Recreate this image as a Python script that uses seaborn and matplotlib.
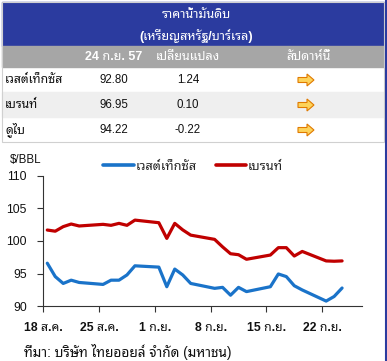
import matplotlib
matplotlib.use("Agg")
import matplotlib.pyplot as plt
from matplotlib.patches import Rectangle, FancyArrow
import seaborn as sns
import pandas as pd

# table data
row_names = ["เวสต์เท็กซัส", "เบรนท์", "ดูไบ"]
last_price = ["92.80", "96.95", "94.22"]
change = ["1.24", "0.10", "-0.22"]

# daily prices, 18 Aug - 24 Sep 2014
dates = ["2014-08-18", "2014-08-19", "2014-08-20", "2014-08-21", "2014-08-22",
         "2014-08-25", "2014-08-26", "2014-08-27", "2014-08-28", "2014-08-29",
         "2014-09-01", "2014-09-02", "2014-09-03", "2014-09-04", "2014-09-05",
         "2014-09-08", "2014-09-09", "2014-09-10", "2014-09-11", "2014-09-12",
         "2014-09-15", "2014-09-16", "2014-09-17", "2014-09-18", "2014-09-19",
         "2014-09-22", "2014-09-23", "2014-09-24"]
wti = [96.6, 94.55, 93.5, 94.0, 93.65, 93.35, 94.0, 94.0, 94.8, 96.2,
       96.0, 93.0, 95.7, 94.8, 93.5, 92.75, 92.9, 91.7, 92.9, 92.25,
       93.0, 94.95, 94.55, 93.15, 92.5, 90.8, 91.5, 92.8]
brent = [101.68, 101.5, 102.2, 102.6, 102.3, 102.55, 102.4, 102.7, 102.4, 103.2,
         102.8, 100.4, 102.7, 101.7, 100.9, 100.25, 99.1, 98.05, 97.9, 97.2,
         97.85, 98.98, 98.98, 97.7, 98.4, 96.95, 96.9, 96.95]
tick_labels = ["18 ส.ค.", "25 ส.ค.", "1 ก.ย.", "8 ก.ย.", "15 ก.ย.", "22 ก.ย."]

sns.set_style("white")
plt.rcParams["font.family"] = ["Liberation Sans", "Noto Sans Thai Looped"]

W, H = 387, 361
fig = plt.figure(figsize=(W / 100, H / 100), dpi=100)

# pixel canvas for the table and notes
bg = fig.add_axes([0, 0, 1, 1])
bg.set_xlim(0, W)
bg.set_ylim(H, 0)
bg.axis("off")

bg.add_patch(Rectangle((2, 2), 382, 44, color="#2B3B9F", zorder=1))
bg.add_patch(Rectangle((2, 46), 382, 21, color="#A6A6A6", zorder=1))
bg.add_patch(Rectangle((2, 92), 382, 25, color="#EFEFEF", zorder=1))
bg.add_patch(Rectangle((2, 2), 382, 140, fill=False, ec="#D0D0D0", lw=0.8, zorder=2))
bg.plot([385.5, 385.5], [0, H], color="#2B3B9F", lw=1.5)

bg.text(196, 15, "ราคาน้ำมันดิบ", color="white", fontsize=9, fontweight="bold",
        ha="center", va="center")
bg.text(196, 36, "(เหรียญสหรัฐ/บาร์เรล)", color="white", fontsize=9, fontweight="bold",
        ha="center", va="center")
for x, s in [(114, "24 ก.ย. 57"), (188, "เปลี่ยนแปลง"), (308, "สัปดาห์นี้")]:
    bg.text(x, 57, s, color="white", fontsize=9, fontweight="bold", ha="center", va="center")

for i, name in enumerate(row_names):
    yc = 80 + i * 25
    bg.text(5, yc, name, fontsize=8.8, fontweight="bold", ha="left", va="center", color="#111111")
    bg.text(114, yc, last_price[i], fontsize=8.3, ha="center", va="center", color="#111111")
    bg.text(188, yc, change[i], fontsize=8.3, ha="center", va="center", color="#111111")
    bg.add_patch(FancyArrow(298, yc, 9, 0, width=5, head_width=12, head_length=7,
                            length_includes_head=False, fc="#FDD35A", ec="#E07A00",
                            lw=0.8, zorder=3))

bg.text(10, 160, r"\$/BBL", fontsize=8.3, ha="left", va="center", color="#111111")
bg.text(24, 352, "ที่มา: บริษัท ไทยออยล์ จำกัด (มหาชน)", fontsize=9.8, ha="left",
        va="center", color="#111111")

# line chart
df = pd.DataFrame({"date": pd.to_datetime(dates), "เวสต์เท็กซัส": wti, "เบรนท์": brent})
df["day"] = (df["date"] - df["date"].iloc[0]).dt.days + 0.5
long = df.melt(id_vars=["day"], value_vars=["เวสต์เท็กซัส", "เบรนท์"],
               var_name="series", value_name="price")

left, right, top, bottom = 43.3, 362, 175.7, 306.3
ax = fig.add_axes([left / W, 1 - bottom / H, (right - left) / W, (bottom - top) / H])
ax.patch.set_alpha(0)
sns.lineplot(data=long, x="day", y="price", hue="series",
             palette={"เวสต์เท็กซัส": "#1A73C9", "เบรนท์": "#C00000"},
             linewidth=2.3, ax=ax)
ax.set_xlim(0, 40)
ax.set_ylim(90, 110)
ax.set_xticks([0, 7, 14, 21, 28, 35])
ax.set_xticklabels(tick_labels, fontweight="bold")
ax.set_yticks([90, 95, 100, 105, 110])
ax.set_xlabel("")
ax.set_ylabel("")
ax.tick_params(axis="both", which="both", direction="out", length=4, width=0.8,
               colors="#333333", labelcolor="#111111", labelsize=8.8)
ax.tick_params(axis="x", pad=7)
ax.tick_params(axis="y", pad=8)
ax.tick_params(bottom=True, left=True)
for s in ["top", "right"]:
    ax.spines[s].set_visible(False)
for s in ["left", "bottom"]:
    ax.spines[s].set_color("#333333")
    ax.spines[s].set_linewidth(0.8)

leg = ax.legend(loc="center", bbox_to_anchor=(0.47, 1.067), ncol=2, frameon=False,
                fontsize=9.2, handlelength=2.4, handletextpad=0.1, columnspacing=1.5)
for line in leg.get_lines():
    line.set_linewidth(2.6)

fig.savefig("out.png", dpi=100)
